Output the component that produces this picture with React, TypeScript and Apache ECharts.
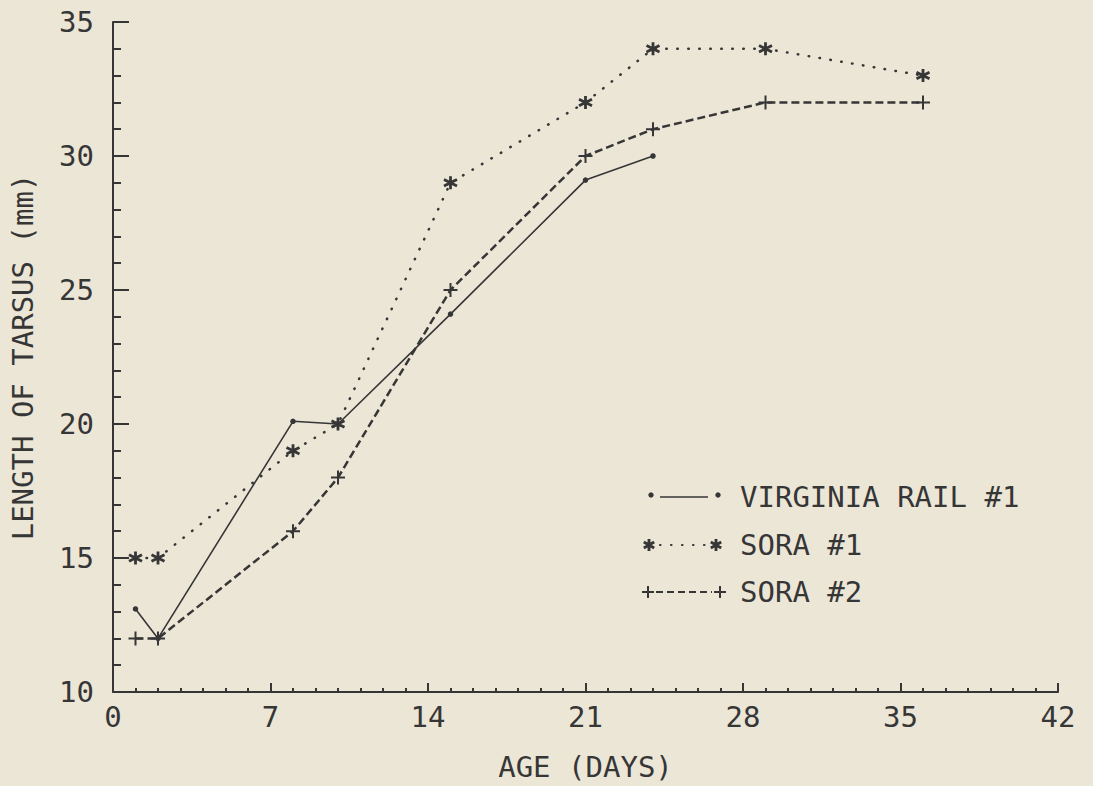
import React, { useEffect, useRef } from "react";
import * as echarts from "echarts";

const ages = [1, 2, 8, 10, 15, 21, 24, 29, 36];
const railAges = [1, 2, 8, 10, 15, 21, 24];
const virginiaRail1 = [13.1, 12, 20.1, 20, 24.1, 29.1, 30];
const sora1 = [15, 15, 19, 20, 29, 32, 34, 34, 33];
const sora2 = [12, 12, 16, 18, 25, 30, 31, 32, 32];
const legendNames = ["VIRGINIA RAIL #1", "SORA #1", "SORA #2"];

const STAR_D = "M0,-5 L0,5 M-4.33,-2.5 L4.33,2.5 M-4.33,2.5 L4.33,-2.5";
const PLUS_D = "M0,-6 L0,6 M-6,0 L6,0";

echarts.graphic.registerShape("starMark", echarts.graphic.extendPath(STAR_D, {}));
echarts.graphic.registerShape("plusMark", echarts.graphic.extendPath(PLUS_D, {}));

const INK = "#363636";
const BG = "#ECE6D7";
const FONT = "DejaVu Sans Mono";

export default function App() {
  const ref = useRef<HTMLDivElement>(null);
  useEffect(() => {
    if (!ref.current) return;
    const chart = echarts.init(ref.current, null, { renderer: "svg" });
    const pair = (xs: number[], ys: number[]) => xs.map((x, i) => [x, ys[i]]);
    const legendRows = [497, 545, 592];
    const option: any = {
      animation: false,
      backgroundColor: BG,
      grid: { left: 108, right: 35, top: 22, bottom: 83 },
      xAxis: {
        type: "value",
        min: 0,
        max: 42,
        interval: 7,
        name: "AGE (DAYS)",
        nameLocation: "middle",
        nameGap: 60,
        nameTextStyle: { fontFamily: FONT, fontSize: 29, color: INK },
        axisLine: { show: true, lineStyle: { color: INK, width: 2 } },
        axisTick: { show: true, inside: true, length: 9, lineStyle: { color: INK, width: 2 } },
        minorTick: { show: true, splitNumber: 7, length: 4, lineStyle: { color: INK, width: 2 } },
        axisLabel: { fontFamily: FONT, fontSize: 29, color: INK, margin: 10 },
        splitLine: { show: false },
      },
      yAxis: {
        type: "value",
        min: 10,
        max: 35,
        interval: 5,
        name: "LENGTH OF TARSUS (mm)",
        nameLocation: "middle",
        nameGap: 76,
        nameTextStyle: { fontFamily: FONT, fontSize: 29, color: INK },
        axisLine: { show: true, lineStyle: { color: INK, width: 2 } },
        axisTick: { show: true, inside: true, length: 16, lineStyle: { color: INK, width: 2 } },
        minorTick: { show: true, splitNumber: 5, length: 8, lineStyle: { color: INK, width: 2 } },
        axisLabel: { fontFamily: FONT, fontSize: 29, color: INK, margin: 19 },
        splitLine: { show: false },
      },
      series: [
        {
          name: legendNames[0],
          type: "line",
          data: pair(railAges, virginiaRail1),
          symbol: "circle",
          symbolSize: 5.5,
          itemStyle: { color: INK },
          lineStyle: { color: INK, width: 1.6, type: "solid" },
        },
        {
          name: legendNames[1],
          type: "line",
          data: pair(ages, sora1),
          symbol: "path://" + STAR_D,
          symbolSize: 13,
          itemStyle: { color: "transparent", borderColor: INK, borderWidth: 2.8 },
          lineStyle: { color: INK, width: 2.5, type: [0.5, 10.5], cap: "round" },
        },
        {
          name: legendNames[2],
          type: "line",
          data: pair(ages, sora2),
          symbol: "path://" + PLUS_D,
          symbolSize: 14,
          itemStyle: { color: "transparent", borderColor: INK, borderWidth: 2 },
          lineStyle: { color: INK, width: 2.5, type: [8, 4] },
        },
      ],
      graphic: [
        // row 1
        { type: "circle", shape: { cx: 651, cy: legendRows[0] - 2, r: 2.7 }, style: { fill: INK } },
        { type: "line", shape: { x1: 660, y1: legendRows[0], x2: 708, y2: legendRows[0] }, style: { stroke: INK, lineWidth: 1.6 } },
        { type: "circle", shape: { cx: 718, cy: legendRows[0] - 2, r: 2.7 }, style: { fill: INK } },
        { type: "text", x: 740, y: legendRows[0], style: { text: legendNames[0], font: `29px '${FONT}'`, fill: INK, verticalAlign: "middle" } },
        // row 2
        { type: "starMark", x: 649, y: legendRows[1], scaleX: 1.2, scaleY: 1.2, style: { stroke: INK, lineWidth: 2.4, fill: "none" } },
        { type: "line", shape: { x1: 660, y1: legendRows[1], x2: 706, y2: legendRows[1] }, style: { stroke: INK, lineWidth: 2.2, lineDash: [0.5, 10.5], lineCap: "round" } },
        { type: "starMark", x: 716, y: legendRows[1], scaleX: 1.2, scaleY: 1.2, style: { stroke: INK, lineWidth: 2.4, fill: "none" } },
        { type: "text", x: 740, y: legendRows[1], style: { text: legendNames[1], font: `29px '${FONT}'`, fill: INK, verticalAlign: "middle" } },
        // row 3
        { type: "plusMark", x: 648, y: legendRows[2], scaleX: 1, scaleY: 1, style: { stroke: INK, lineWidth: 2, fill: "none" } },
        { type: "line", shape: { x1: 656, y1: legendRows[2], x2: 712, y2: legendRows[2] }, style: { stroke: INK, lineWidth: 2, lineDash: [7, 4] } },
        { type: "plusMark", x: 720, y: legendRows[2], scaleX: 1, scaleY: 1, style: { stroke: INK, lineWidth: 2, fill: "none" } },
        { type: "text", x: 740, y: legendRows[2], style: { text: legendNames[2], font: `29px '${FONT}'`, fill: INK, verticalAlign: "middle" } },
      ],
    };
    chart.setOption(option);
    return () => chart.dispose();
  }, []);
  return (
    <div
      ref={ref}
      style={{ position: "fixed", left: 0, top: 0, width: 1093, height: 786, background: BG }}
    />
  );
}
